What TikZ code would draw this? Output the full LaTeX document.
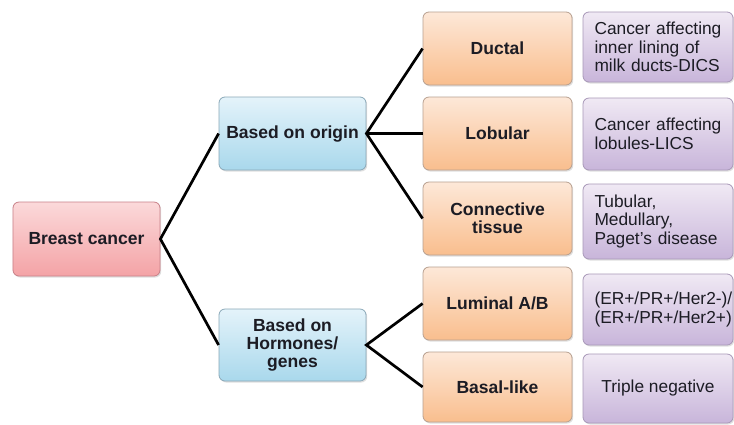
\documentclass[tikz,border=0pt]{standalone}
\usepackage{fontspec}
\setmainfont{Liberation Sans}
\usetikzlibrary{shadows}
\definecolor{pinkT}{HTML}{FBD9DA}
\definecolor{pinkB}{HTML}{F4A3A6}
\definecolor{pinkD}{HTML}{C88088}
\definecolor{blueT}{HTML}{E4F3FA}
\definecolor{blueB}{HTML}{A9D8EC}
\definecolor{blueD}{HTML}{8AA8B8}
\definecolor{orT}{HTML}{FDE8D8}
\definecolor{orB}{HTML}{F9BE8E}
\definecolor{orD}{HTML}{B8A090}
\definecolor{puT}{HTML}{F0E9F4}
\definecolor{puB}{HTML}{C8B5DA}
\definecolor{puD}{HTML}{A898B8}
\definecolor{txt}{HTML}{1C1C24}
\hfuzz=30pt
\tikzset{
  box/.style={rectangle, rounded corners=6bp, line width=0.8bp, align=center,
    font=\fontsize{17.6}{18.5}\selectfont\bfseries, text=txt, inner sep=2bp,
    drop shadow={shadow xshift=1.2bp, shadow yshift=-1.5bp, opacity=0.25}},
  pinkbox/.style={box, draw=pinkD, top color=pinkT, bottom color=pinkB},
  bluebox/.style={box, draw=blueD, top color=blueT, bottom color=blueB},
  orbox/.style={box, draw=orD, top color=orT, bottom color=orB,
    minimum width=149bp},
  pubox/.style={box, draw=puD, top color=puT, bottom color=puB,
    minimum width=150bp, font=\fontsize{17.4}{18.5}\selectfont, text=txt},
  pul/.style={pubox, align=left, text width=127bp},
  link/.style={line width=2.7bp, black}
}
\begin{document}
\begin{tikzpicture}[x=1bp, y=-1bp]
\useasboundingbox[fill=white] (0,0) rectangle (734,424);
% left and middle
\node[pinkbox, minimum width=147bp, minimum height=74bp] (bc) at (86.5,239) {Breast cancer};
\node[bluebox, minimum width=147bp, minimum height=73bp] (orig) at (292.5,133.5) {Based on origin};
\node[bluebox, minimum width=147bp, minimum height=72bp] (horm) at (292.5,345) {Based on\\Hormones/\\genes};
% orange column
\node[orbox, minimum height=73bp] (duct) at (497.5,48.5) {Ductal};
\node[orbox, minimum height=73bp] (lob) at (497.5,133.5) {Lobular};
\node[orbox, minimum height=73bp] (conn) at (497.5,218.5) {Connective\\tissue};
\node[orbox, minimum height=73bp] (lum) at (497.5,303.5) {Luminal A/B};
\node[orbox, minimum height=70bp] (bas) at (497.5,387) {Basal-like};
% purple column
\node[pul, minimum height=70bp] (d1) at (658,47) {\mbox{Cancer affecting}\\\mbox{inner lining of}\\\mbox{milk ducts-DICS}};
\node[pul, minimum height=72bp] (d2) at (658,134) {\mbox{Cancer affecting}\\\mbox{lobules-LICS}};
\node[pul, minimum height=75bp] (d3) at (658,221.5) {\mbox{Tubular,}\\\mbox{Medullary,}\\\mbox{Paget's disease}};
\node[pul, minimum height=71bp] (d4) at (658,309.5) {\mbox{(ER+/PR+/Her2-)/}\\\mbox{(ER+/PR+/Her2+)}};
\node[pubox, minimum height=69bp] (d5) at (658,388.5) {Triple negative};
% connectors
\draw[link] (orig.west) -- (bc.east) -- (horm.west);
\draw[link] (duct.west) -- (orig.east) -- (conn.west);
\draw[link] (orig.east) -- (lob.west);
\draw[link] (lum.west) -- (horm.east) -- (bas.west);
\end{tikzpicture}
\end{document}
